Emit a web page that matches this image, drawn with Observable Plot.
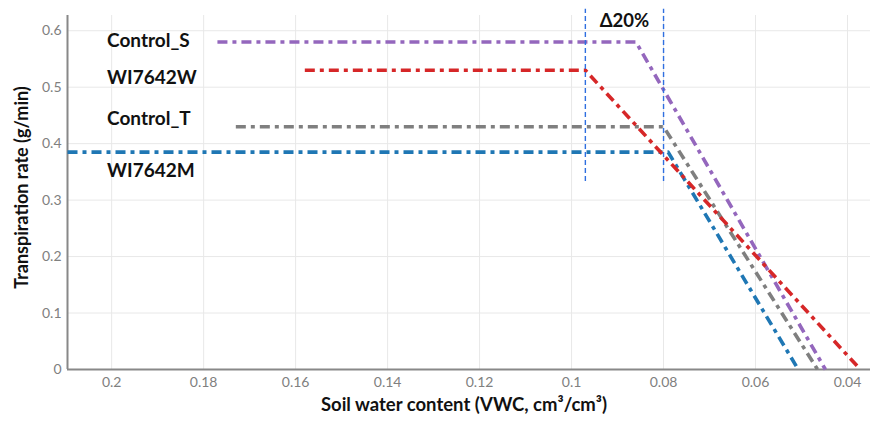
<!DOCTYPE html>
<html>
<head>
<meta charset="utf-8">
<script src="https://cdn.jsdelivr.net/npm/d3@7"></script>
<script src="https://cdn.jsdelivr.net/npm/@observablehq/plot@0.6"></script>
<style>
  html, body { margin: 0; padding: 0; background: #fff; }
  #chart svg { display: block; }
</style>
</head>
<body>
<div id="chart"></div>
<script>
// ---- data ----
const series  = ["Control_S", "WI7642W", "Control_T", "WI7642M"];
const colors  = ["#9467bd", "#d62728", "#7f7f7f", "#1f77b4"];
const plateau = [0.58, 0.53, 0.43, 0.385];   // transpiration rate plateau (g/min)
const xStart  = [0.177, 0.158, 0.173, 0.2096]; // VWC where the plateau starts (left)
const xBreak  = [0.086, 0.097, 0.080, 0.079]; // breakpoint VWC
const xEnd    = [0.0448, 0.0372, 0.0465, 0.0507]; // VWC where rate reaches 0
const labelX  = [0.201, 0.201, 0.201, 0.201];
const labelY  = [0.582, 0.517, 0.444, 0.352];
const deltaX  = [0.097, 0.080];               // Δ20% bracket lines
const deltaLabel = "Δ20%";
const xTicks = [0.2, 0.18, 0.16, 0.14, 0.12, 0.1, 0.08, 0.06, 0.04];
const yTicks = [0, 0.1, 0.2, 0.3, 0.4, 0.5, 0.6];
const xDomain = [0.2096, 0.035];
const yDomain = [0, 0.627];

// build line table from arrays
const pts = [];
series.forEach((s, i) => {
  pts.push({series: s, x: xStart[i], y: plateau[i]});
  pts.push({series: s, x: xBreak[i], y: plateau[i]});
  pts.push({series: s, x: xEnd[i], y: 0});
});
const labels = series.map((s, i) => ({series: s, x: labelX[i], y: labelY[i]}));
const drawOrder = ["WI7642M", "Control_T", "Control_S", "WI7642W"];

const chart = Plot.plot({
  width: 871,
  height: 424,
  marginLeft: 67,
  marginRight: 1,
  marginTop: 15,
  marginBottom: 55,
  style: {fontFamily: "Lato, 'Open Sans', sans-serif", background: "#fff"},
  x: {domain: xDomain, label: null},
  y: {domain: yDomain, label: null},
  color: {domain: series, range: colors},
  marks: [
    Plot.gridX(xTicks, {stroke: "#e8e8e8", strokeOpacity: 1, strokeWidth: 1}),
    Plot.gridY(yTicks, {stroke: "#e8e8e8", strokeOpacity: 1, strokeWidth: 1}),
    Plot.axisX(xTicks, {tickSize: 0, tickPadding: 8, tickFormat: d => String(d), fill: "#808080", fontSize: 14, label: null}),
    Plot.axisY(yTicks, {tickSize: 0, tickPadding: 6, tickFormat: d => String(d), fill: "#808080", fontSize: 14, label: null}),
    Plot.ruleX([xDomain[0]], {y1: 0, y2: yDomain[1], stroke: "#888", strokeWidth: 2}),
    Plot.ruleY([0], {stroke: "#888", strokeWidth: 2}),
    ...drawOrder.map(s => Plot.line(pts.filter(d => d.series === s), {
      x: "x", y: "y", stroke: "series",
      strokeWidth: 3.6, strokeDasharray: "10,5,4,5", strokeLinecap: "butt"
    })),
    Plot.ruleX(deltaX, {y1: 0.333, y2: 0.638, stroke: "#2f6fe0", strokeWidth: 1.4, strokeDasharray: "5,3"}),
    Plot.text([deltaLabel], {x: (deltaX[0] + deltaX[1]) / 2, y: 0.617, text: d => d, fontSize: 18.5, fontWeight: "bold", fill: "#111"}),
    Plot.text(labels, {x: "x", y: "y", text: "series", textAnchor: "start", fontSize: 19, fontWeight: "bold", fill: "#111"}),
    Plot.text(["Transpiration rate (g/min)"], {frameAnchor: "left", textAnchor: "middle", dx: -45, dy: -5, rotate: -90, text: d => d, fontSize: 18, fontWeight: "bold", fill: "#111"}),
    Plot.text(["Soil water content (VWC, cm³/cm³)"], {frameAnchor: "bottom", textAnchor: "middle", dx: -5, dy: 41, text: d => d, fontSize: 18.5, fontWeight: "bold", fill: "#111"})
  ]
});
document.getElementById("chart").appendChild(chart);
</script>
</body>
</html>
